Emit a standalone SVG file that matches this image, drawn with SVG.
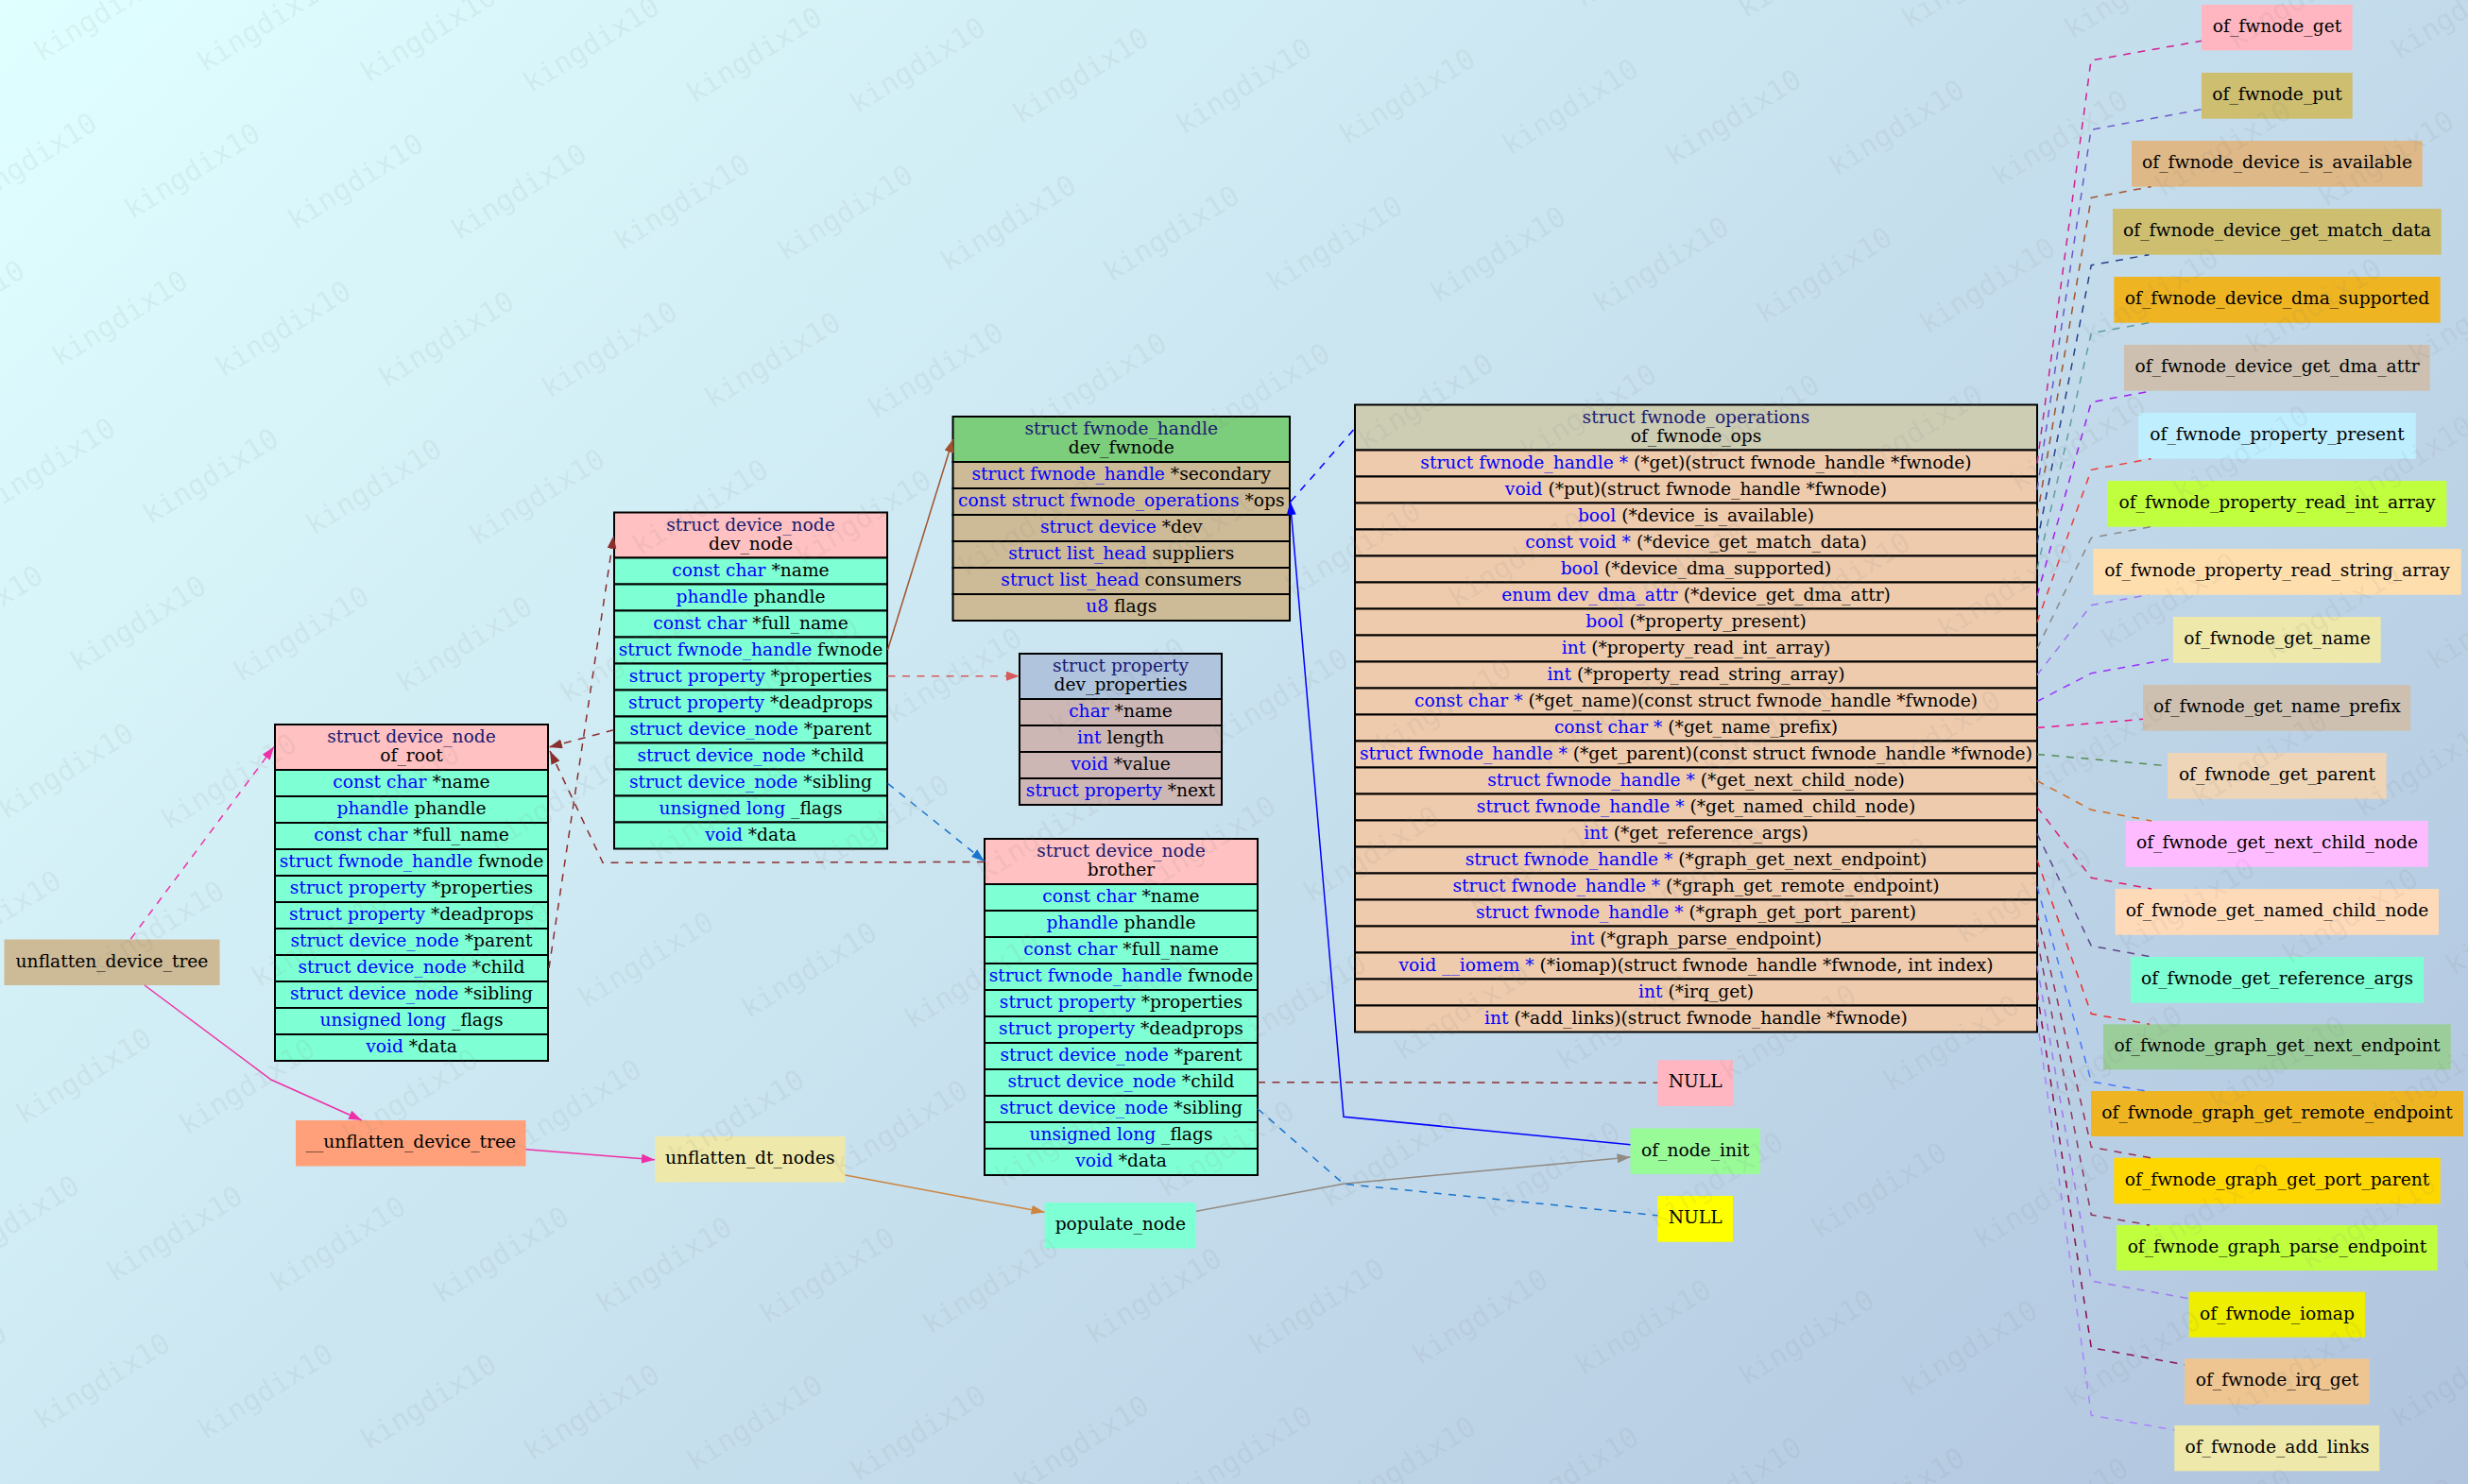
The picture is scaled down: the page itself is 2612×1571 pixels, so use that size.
<svg xmlns="http://www.w3.org/2000/svg" xmlns:xlink="http://www.w3.org/1999/xlink" width="2612" height="1571" viewBox="0 0 2612 1571">
<style>
.t{font-family:"DejaVu Serif","Liberation Serif",serif;font-size:18.67px;text-anchor:middle;fill:#000}
.ty{fill:#0000FF}
.hd{fill:#191970}
.c{stroke:#000;stroke-width:2}
.pl{stroke:none}
.e{fill:none;stroke-width:1.5}
.d{stroke-dasharray:8,7.5}
.wm{font-family:"DejaVu Sans Mono","Liberation Mono",monospace;font-size:30px;fill:#7f7f7f;fill-opacity:0.11}
.hp{fill:#FFC1C1}.rq{fill:#7FFFD4}.hg{fill:#7CCD7C}.rt{fill:#CDBA96}.hb{fill:#B0C4DE}.rm{fill:#CDB7B5}.hy{fill:#CDCDB4}.rp{fill:#EECBAD}
</style>
<defs>
<linearGradient id="bg" gradientUnits="userSpaceOnUse" x1="0" y1="0" x2="2091.5" y2="2091.5">
<stop offset="0" stop-color="#E0FFFF"/><stop offset="1" stop-color="#B0C4DE"/>
</linearGradient>
<marker id="m_mag" viewBox="0 0 14 10" refX="14" refY="5" markerWidth="14" markerHeight="10" markerUnits="userSpaceOnUse" orient="auto"><path d="M0,0L14,5L0,10z" fill="#EE30A7"/></marker>
<marker id="m_peru" viewBox="0 0 14 10" refX="14" refY="5" markerWidth="14" markerHeight="10" markerUnits="userSpaceOnUse" orient="auto"><path d="M0,0L14,5L0,10z" fill="#CD853F"/></marker>
<marker id="m_gray" viewBox="0 0 14 10" refX="14" refY="5" markerWidth="14" markerHeight="10" markerUnits="userSpaceOnUse" orient="auto"><path d="M0,0L14,5L0,10z" fill="#918A82"/></marker>
<marker id="m_blue" viewBox="0 0 14 10" refX="14" refY="5" markerWidth="14" markerHeight="10" markerUnits="userSpaceOnUse" orient="auto"><path d="M0,0L14,5L0,10z" fill="#0000FF"/></marker>
<marker id="m_sienna" viewBox="0 0 14 10" refX="14" refY="5" markerWidth="14" markerHeight="10" markerUnits="userSpaceOnUse" orient="auto"><path d="M0,0L14,5L0,10z" fill="#A0522D"/></marker>
<marker id="m_ired" viewBox="0 0 14 10" refX="14" refY="5" markerWidth="14" markerHeight="10" markerUnits="userSpaceOnUse" orient="auto"><path d="M0,0L14,5L0,10z" fill="#D65A5A"/></marker>
<marker id="m_dodger" viewBox="0 0 14 10" refX="14" refY="5" markerWidth="14" markerHeight="10" markerUnits="userSpaceOnUse" orient="auto"><path d="M0,0L14,5L0,10z" fill="#1874CD"/></marker>
<marker id="m_brown" viewBox="0 0 14 10" refX="14" refY="5" markerWidth="14" markerHeight="10" markerUnits="userSpaceOnUse" orient="auto"><path d="M0,0L14,5L0,10z" fill="#8B2E2E"/></marker>
<text id="wm" class="wm" transform="rotate(-32)">kingdix10</text>
<g id="wmrow">
<use href="#wm" x="0" y="0"/><use href="#wm" x="172.7" y="11"/><use href="#wm" x="345.4" y="22"/><use href="#wm" x="518.1" y="33"/><use href="#wm" x="690.8" y="44"/><use href="#wm" x="863.5" y="55"/><use href="#wm" x="1036.2" y="66"/><use href="#wm" x="1208.9" y="77"/><use href="#wm" x="1381.6" y="88"/><use href="#wm" x="1554.3" y="99"/><use href="#wm" x="1727" y="110"/><use href="#wm" x="1899.7" y="121"/><use href="#wm" x="2072.4" y="132"/><use href="#wm" x="2245.1" y="143"/><use href="#wm" x="2417.8" y="154"/><use href="#wm" x="2590.5" y="165"/><use href="#wm" x="2763.2" y="176"/><use href="#wm" x="2935.9" y="187"/>
</g>
</defs>
<rect x="0" y="0" width="2612" height="1571" fill="url(#bg)"/>

<g id="node_unflatten_device_tree">
<rect class="pl" x="4.5" y="994.5" width="228" height="48.5" fill="#CDBA96"/>
<text class="t" x="118.5" y="1023.5">unflatten_device_tree</text>
</g>
<g id="node___unflatten_device_tree">
<rect class="pl" x="313" y="1186" width="243.5" height="48.5" fill="#FFA07A"/>
<text class="t" x="434.8" y="1215">__unflatten_device_tree</text>
</g>
<g id="node_unflatten_dt_nodes">
<rect class="pl" x="693" y="1203" width="201.5" height="48.5" fill="#EEE8AA"/>
<text class="t" x="793.8" y="1232">unflatten_dt_nodes</text>
</g>
<g id="node_populate_node">
<rect class="pl" x="1105.5" y="1273" width="160.5" height="48.5" fill="#7FFFD4"/>
<text class="t" x="1185.8" y="1302">populate_node</text>
</g>
<g id="node_of_node_init">
<rect class="pl" x="1725.5" y="1194.5" width="137.5" height="48.5" fill="#98FB98"/>
<text class="t" x="1794.2" y="1223.5">of_node_init</text>
</g>
<g id="node_null_child">
<rect class="pl" x="1754.3" y="1122.3" width="79.7" height="48.7" fill="#FFB6C1"/>
<text class="t" x="1794.2" y="1151.3">NULL</text>
</g>
<g id="node_null_sibling">
<rect class="pl" x="1754.3" y="1266" width="79.7" height="48.7" fill="#FFFF00"/>
<text class="t" x="1794.2" y="1295">NULL</text>
</g>

<g id="node_of_root">
<rect class="c hp" x="291" y="767" width="289" height="48"/>
<text class="t" x="435.5" y="786"><tspan class="hd">struct device_node</tspan></text>
<text class="t" x="435.5" y="806">of_root</text>
<rect class="c rq" x="291" y="815" width="289" height="28"/>
<rect class="c rq" x="291" y="843" width="289" height="28"/>
<rect class="c rq" x="291" y="871" width="289" height="28"/>
<rect class="c rq" x="291" y="899" width="289" height="28"/>
<rect class="c rq" x="291" y="927" width="289" height="28"/>
<rect class="c rq" x="291" y="955" width="289" height="28"/>
<rect class="c rq" x="291" y="983" width="289" height="28"/>
<rect class="c rq" x="291" y="1011" width="289" height="28"/>
<rect class="c rq" x="291" y="1039" width="289" height="28"/>
<rect class="c rq" x="291" y="1067" width="289" height="28"/>
<rect class="c rq" x="291" y="1095" width="289" height="28"/>
<text class="t" x="435.5" y="834"><tspan class="ty">const char</tspan> *name</text>
<text class="t" x="435.5" y="862"><tspan class="ty">phandle</tspan> phandle</text>
<text class="t" x="435.5" y="890"><tspan class="ty">const char</tspan> *full_name</text>
<text class="t" x="435.5" y="918"><tspan class="ty">struct fwnode_handle</tspan> fwnode</text>
<text class="t" x="435.5" y="946"><tspan class="ty">struct property</tspan> *properties</text>
<text class="t" x="435.5" y="974"><tspan class="ty">struct property</tspan> *deadprops</text>
<text class="t" x="435.5" y="1002"><tspan class="ty">struct device_node</tspan> *parent</text>
<text class="t" x="435.5" y="1030"><tspan class="ty">struct device_node</tspan> *child</text>
<text class="t" x="435.5" y="1058"><tspan class="ty">struct device_node</tspan> *sibling</text>
<text class="t" x="435.5" y="1086"><tspan class="ty">unsigned long</tspan> _flags</text>
<text class="t" x="435.5" y="1114"><tspan class="ty">void</tspan> *data</text>
</g>

<g id="node_dev_node">
<rect class="c hp" x="650" y="542.5" width="289" height="48"/>
<text class="t" x="794.5" y="561.5"><tspan class="hd">struct device_node</tspan></text>
<text class="t" x="794.5" y="581.5">dev_node</text>
<rect class="c rq" x="650" y="590.5" width="289" height="28"/>
<rect class="c rq" x="650" y="618.5" width="289" height="28"/>
<rect class="c rq" x="650" y="646.5" width="289" height="28"/>
<rect class="c rq" x="650" y="674.5" width="289" height="28"/>
<rect class="c rq" x="650" y="702.5" width="289" height="28"/>
<rect class="c rq" x="650" y="730.5" width="289" height="28"/>
<rect class="c rq" x="650" y="758.5" width="289" height="28"/>
<rect class="c rq" x="650" y="786.5" width="289" height="28"/>
<rect class="c rq" x="650" y="814.5" width="289" height="28"/>
<rect class="c rq" x="650" y="842.5" width="289" height="28"/>
<rect class="c rq" x="650" y="870.5" width="289" height="28"/>
<text class="t" x="794.5" y="609.5"><tspan class="ty">const char</tspan> *name</text>
<text class="t" x="794.5" y="637.5"><tspan class="ty">phandle</tspan> phandle</text>
<text class="t" x="794.5" y="665.5"><tspan class="ty">const char</tspan> *full_name</text>
<text class="t" x="794.5" y="693.5"><tspan class="ty">struct fwnode_handle</tspan> fwnode</text>
<text class="t" x="794.5" y="721.5"><tspan class="ty">struct property</tspan> *properties</text>
<text class="t" x="794.5" y="749.5"><tspan class="ty">struct property</tspan> *deadprops</text>
<text class="t" x="794.5" y="777.5"><tspan class="ty">struct device_node</tspan> *parent</text>
<text class="t" x="794.5" y="805.5"><tspan class="ty">struct device_node</tspan> *child</text>
<text class="t" x="794.5" y="833.5"><tspan class="ty">struct device_node</tspan> *sibling</text>
<text class="t" x="794.5" y="861.5"><tspan class="ty">unsigned long</tspan> _flags</text>
<text class="t" x="794.5" y="889.5"><tspan class="ty">void</tspan> *data</text>
</g>

<g id="node_brother">
<rect class="c hp" x="1042" y="888" width="289" height="48"/>
<text class="t" x="1186.5" y="907"><tspan class="hd">struct device_node</tspan></text>
<text class="t" x="1186.5" y="927">brother</text>
<rect class="c rq" x="1042" y="936" width="289" height="28"/>
<rect class="c rq" x="1042" y="964" width="289" height="28"/>
<rect class="c rq" x="1042" y="992" width="289" height="28"/>
<rect class="c rq" x="1042" y="1020" width="289" height="28"/>
<rect class="c rq" x="1042" y="1048" width="289" height="28"/>
<rect class="c rq" x="1042" y="1076" width="289" height="28"/>
<rect class="c rq" x="1042" y="1104" width="289" height="28"/>
<rect class="c rq" x="1042" y="1132" width="289" height="28"/>
<rect class="c rq" x="1042" y="1160" width="289" height="28"/>
<rect class="c rq" x="1042" y="1188" width="289" height="28"/>
<rect class="c rq" x="1042" y="1216" width="289" height="28"/>
<text class="t" x="1186.5" y="955"><tspan class="ty">const char</tspan> *name</text>
<text class="t" x="1186.5" y="983"><tspan class="ty">phandle</tspan> phandle</text>
<text class="t" x="1186.5" y="1011"><tspan class="ty">const char</tspan> *full_name</text>
<text class="t" x="1186.5" y="1039"><tspan class="ty">struct fwnode_handle</tspan> fwnode</text>
<text class="t" x="1186.5" y="1067"><tspan class="ty">struct property</tspan> *properties</text>
<text class="t" x="1186.5" y="1095"><tspan class="ty">struct property</tspan> *deadprops</text>
<text class="t" x="1186.5" y="1123"><tspan class="ty">struct device_node</tspan> *parent</text>
<text class="t" x="1186.5" y="1151"><tspan class="ty">struct device_node</tspan> *child</text>
<text class="t" x="1186.5" y="1179"><tspan class="ty">struct device_node</tspan> *sibling</text>
<text class="t" x="1186.5" y="1207"><tspan class="ty">unsigned long</tspan> _flags</text>
<text class="t" x="1186.5" y="1235"><tspan class="ty">void</tspan> *data</text>
</g>

<g id="node_dev_fwnode">
<rect class="c hg" x="1008.5" y="441" width="356.5" height="48"/>
<text class="t" x="1186.75" y="460"><tspan class="hd">struct fwnode_handle</tspan></text>
<text class="t" x="1186.75" y="480">dev_fwnode</text>
<rect class="c rt" x="1008.5" y="489" width="356.5" height="28"/>
<rect class="c rt" x="1008.5" y="517" width="356.5" height="28"/>
<rect class="c rt" x="1008.5" y="545" width="356.5" height="28"/>
<rect class="c rt" x="1008.5" y="573" width="356.5" height="28"/>
<rect class="c rt" x="1008.5" y="601" width="356.5" height="28"/>
<rect class="c rt" x="1008.5" y="629" width="356.5" height="28"/>
<text class="t" x="1186.75" y="508"><tspan class="ty">struct fwnode_handle</tspan> *secondary</text>
<text class="t" x="1186.75" y="536"><tspan class="ty">const struct fwnode_operations</tspan> *ops</text>
<text class="t" x="1186.75" y="564"><tspan class="ty">struct device</tspan> *dev</text>
<text class="t" x="1186.75" y="592"><tspan class="ty">struct list_head</tspan> suppliers</text>
<text class="t" x="1186.75" y="620"><tspan class="ty">struct list_head</tspan> consumers</text>
<text class="t" x="1186.75" y="648"><tspan class="ty">u8</tspan> flags</text>
</g>

<g id="node_dev_properties">
<rect class="c hb" x="1079" y="692" width="214" height="48"/>
<text class="t" x="1186" y="711"><tspan class="hd">struct property</tspan></text>
<text class="t" x="1186" y="731">dev_properties</text>
<rect class="c rm" x="1079" y="740" width="214" height="28"/>
<rect class="c rm" x="1079" y="768" width="214" height="28"/>
<rect class="c rm" x="1079" y="796" width="214" height="28"/>
<rect class="c rm" x="1079" y="824" width="214" height="28"/>
<text class="t" x="1186" y="759"><tspan class="ty">char</tspan> *name</text>
<text class="t" x="1186" y="787"><tspan class="ty">int</tspan> length</text>
<text class="t" x="1186" y="815"><tspan class="ty">void</tspan> *value</text>
<text class="t" x="1186" y="843"><tspan class="ty">struct property</tspan> *next</text>
</g>

<g id="node_of_fwnode_ops">
<rect class="c hy" x="1434" y="428.5" width="722" height="48"/>
<text class="t" x="1795" y="447.5"><tspan class="hd">struct fwnode_operations</tspan></text>
<text class="t" x="1795" y="467.5">of_fwnode_ops</text>
<rect class="c rp" x="1434" y="476.5" width="722" height="28"/>
<rect class="c rp" x="1434" y="504.5" width="722" height="28"/>
<rect class="c rp" x="1434" y="532.5" width="722" height="28"/>
<rect class="c rp" x="1434" y="560.5" width="722" height="28"/>
<rect class="c rp" x="1434" y="588.5" width="722" height="28"/>
<rect class="c rp" x="1434" y="616.5" width="722" height="28"/>
<rect class="c rp" x="1434" y="644.5" width="722" height="28"/>
<rect class="c rp" x="1434" y="672.5" width="722" height="28"/>
<rect class="c rp" x="1434" y="700.5" width="722" height="28"/>
<rect class="c rp" x="1434" y="728.5" width="722" height="28"/>
<rect class="c rp" x="1434" y="756.5" width="722" height="28"/>
<rect class="c rp" x="1434" y="784.5" width="722" height="28"/>
<rect class="c rp" x="1434" y="812.5" width="722" height="28"/>
<rect class="c rp" x="1434" y="840.5" width="722" height="28"/>
<rect class="c rp" x="1434" y="868.5" width="722" height="28"/>
<rect class="c rp" x="1434" y="896.5" width="722" height="28"/>
<rect class="c rp" x="1434" y="924.5" width="722" height="28"/>
<rect class="c rp" x="1434" y="952.5" width="722" height="28"/>
<rect class="c rp" x="1434" y="980.5" width="722" height="28"/>
<rect class="c rp" x="1434" y="1008.5" width="722" height="28"/>
<rect class="c rp" x="1434" y="1036.5" width="722" height="28"/>
<rect class="c rp" x="1434" y="1064.5" width="722" height="28"/>
<text class="t" x="1795" y="495.5"><tspan class="ty">struct fwnode_handle *</tspan> (*get)(struct fwnode_handle *fwnode)</text>
<text class="t" x="1795" y="523.5"><tspan class="ty">void</tspan> (*put)(struct fwnode_handle *fwnode)</text>
<text class="t" x="1795" y="551.5"><tspan class="ty">bool</tspan> (*device_is_available)</text>
<text class="t" x="1795" y="579.5"><tspan class="ty">const void *</tspan> (*device_get_match_data)</text>
<text class="t" x="1795" y="607.5"><tspan class="ty">bool</tspan> (*device_dma_supported)</text>
<text class="t" x="1795" y="635.5"><tspan class="ty">enum dev_dma_attr</tspan> (*device_get_dma_attr)</text>
<text class="t" x="1795" y="663.5"><tspan class="ty">bool</tspan> (*property_present)</text>
<text class="t" x="1795" y="691.5"><tspan class="ty">int</tspan> (*property_read_int_array)</text>
<text class="t" x="1795" y="719.5"><tspan class="ty">int</tspan> (*property_read_string_array)</text>
<text class="t" x="1795" y="747.5"><tspan class="ty">const char *</tspan> (*get_name)(const struct fwnode_handle *fwnode)</text>
<text class="t" x="1795" y="775.5"><tspan class="ty">const char *</tspan> (*get_name_prefix)</text>
<text class="t" x="1795" y="803.5"><tspan class="ty">struct fwnode_handle *</tspan> (*get_parent)(const struct fwnode_handle *fwnode)</text>
<text class="t" x="1795" y="831.5"><tspan class="ty">struct fwnode_handle *</tspan> (*get_next_child_node)</text>
<text class="t" x="1795" y="859.5"><tspan class="ty">struct fwnode_handle *</tspan> (*get_named_child_node)</text>
<text class="t" x="1795" y="887.5"><tspan class="ty">int</tspan> (*get_reference_args)</text>
<text class="t" x="1795" y="915.5"><tspan class="ty">struct fwnode_handle *</tspan> (*graph_get_next_endpoint)</text>
<text class="t" x="1795" y="943.5"><tspan class="ty">struct fwnode_handle *</tspan> (*graph_get_remote_endpoint)</text>
<text class="t" x="1795" y="971.5"><tspan class="ty">struct fwnode_handle *</tspan> (*graph_get_port_parent)</text>
<text class="t" x="1795" y="999.5"><tspan class="ty">int</tspan> (*graph_parse_endpoint)</text>
<text class="t" x="1795" y="1027.5"><tspan class="ty">void __iomem *</tspan> (*iomap)(struct fwnode_handle *fwnode, int index)</text>
<text class="t" x="1795" y="1055.5"><tspan class="ty">int</tspan> (*irq_get)</text>
<text class="t" x="1795" y="1083.5"><tspan class="ty">int</tspan> (*add_links)(struct fwnode_handle *fwnode)</text>
</g>

<g id="node_of_fwnode_get"><rect class="pl" x="2330" y="5" width="159.7" height="48.3" fill="#FFB6C1"/><text class="t" x="2410" y="34">of_fwnode_get</text></g>
<g id="node_of_fwnode_put"><rect class="pl" x="2330" y="77" width="159.7" height="48.7" fill="#CDBE70"/><text class="t" x="2410" y="106">of_fwnode_put</text></g>
<g id="node_of_fwnode_device_is_available"><rect class="pl" x="2256" y="149" width="307.7" height="48.7" fill="#DEB887"/><text class="t" x="2410" y="178">of_fwnode_device_is_available</text></g>
<g id="node_of_fwnode_device_get_match_data"><rect class="pl" x="2236" y="221" width="347.7" height="48.7" fill="#CDBE70"/><text class="t" x="2410" y="250">of_fwnode_device_get_match_data</text></g>
<g id="node_of_fwnode_device_dma_supported"><rect class="pl" x="2237.3" y="293" width="345.4" height="48.7" fill="#EEB422"/><text class="t" x="2410" y="322">of_fwnode_device_dma_supported</text></g>
<g id="node_of_fwnode_device_get_dma_attr"><rect class="pl" x="2248" y="365" width="323.7" height="48.7" fill="#CDC0B0"/><text class="t" x="2410" y="394">of_fwnode_device_get_dma_attr</text></g>
<g id="node_of_fwnode_property_present"><rect class="pl" x="2263.3" y="437" width="293.4" height="48.7" fill="#BFEFFF"/><text class="t" x="2410" y="466">of_fwnode_property_present</text></g>
<g id="node_of_fwnode_property_read_int_array"><rect class="pl" x="2230.7" y="509" width="358.6" height="48.7" fill="#C0FF3E"/><text class="t" x="2410" y="538">of_fwnode_property_read_int_array</text></g>
<g id="node_of_fwnode_property_read_string_array"><rect class="pl" x="2215.3" y="581" width="389.4" height="48.7" fill="#FFDEAD"/><text class="t" x="2410" y="610">of_fwnode_property_read_string_array</text></g>
<g id="node_of_fwnode_get_name"><rect class="pl" x="2300" y="653" width="219.7" height="48.7" fill="#EEE8AA"/><text class="t" x="2410" y="682">of_fwnode_get_name</text></g>
<g id="node_of_fwnode_get_name_prefix"><rect class="pl" x="2268" y="725" width="283.3" height="48.7" fill="#CDC0B0"/><text class="t" x="2410" y="754">of_fwnode_get_name_prefix</text></g>
<g id="node_of_fwnode_get_parent"><rect class="pl" x="2294" y="797" width="231.7" height="48.7" fill="#EED5B7"/><text class="t" x="2410" y="826">of_fwnode_get_parent</text></g>
<g id="node_of_fwnode_get_next_child_node"><rect class="pl" x="2250" y="869" width="319.7" height="48.7" fill="#FFBBFF"/><text class="t" x="2410" y="898">of_fwnode_get_next_child_node</text></g>
<g id="node_of_fwnode_get_named_child_node"><rect class="pl" x="2238.7" y="941" width="342.3" height="48.7" fill="#FFDAB9"/><text class="t" x="2410" y="970">of_fwnode_get_named_child_node</text></g>
<g id="node_of_fwnode_get_reference_args"><rect class="pl" x="2255" y="1013" width="310" height="48.7" fill="#7FFFD4"/><text class="t" x="2410" y="1042">of_fwnode_get_reference_args</text></g>
<g id="node_of_fwnode_graph_get_next_endpoint"><rect class="pl" x="2226" y="1084.3" width="367.7" height="48" fill="#9BCD9B"/><text class="t" x="2410" y="1113">of_fwnode_graph_get_next_endpoint</text></g>
<g id="node_of_fwnode_graph_get_remote_endpoint"><rect class="pl" x="2213" y="1155" width="394" height="48" fill="#EEB422"/><text class="t" x="2410" y="1184">of_fwnode_graph_get_remote_endpoint</text></g>
<g id="node_of_fwnode_graph_get_port_parent"><rect class="pl" x="2237.3" y="1225.7" width="345.4" height="48.6" fill="#FFD700"/><text class="t" x="2410" y="1254.7">of_fwnode_graph_get_port_parent</text></g>
<g id="node_of_fwnode_graph_parse_endpoint"><rect class="pl" x="2240" y="1297" width="339.7" height="48" fill="#C0FF3E"/><text class="t" x="2410" y="1326">of_fwnode_graph_parse_endpoint</text></g>
<g id="node_of_fwnode_iomap"><rect class="pl" x="2316.7" y="1367.7" width="186.3" height="48" fill="#EEEE00"/><text class="t" x="2410" y="1396.5">of_fwnode_iomap</text></g>
<g id="node_of_fwnode_irq_get"><rect class="pl" x="2312" y="1438.3" width="195.7" height="48.4" fill="#EEC591"/><text class="t" x="2410" y="1467.3">of_fwnode_irq_get</text></g>
<g id="node_of_fwnode_add_links"><rect class="pl" x="2301.3" y="1509" width="217" height="48.3" fill="#EEE8AA"/><text class="t" x="2410" y="1538">of_fwnode_add_links</text></g>

<g id="connectors">
<path class="e d" stroke="#EE30A7" marker-end="url(#m_mag)" d="M138.4,994 L290,790.6"/>
<path class="e" stroke="#EE30A7" marker-end="url(#m_mag)" d="M153,1043 L287,1143 L383,1186"/>
<path class="e" stroke="#EE30A7" marker-end="url(#m_mag)" d="M556.4,1216.7 L693,1227.7"/>
<path class="e" stroke="#CD853F" marker-end="url(#m_peru)" d="M894.5,1244 L1105.5,1283.3"/>
<path class="e" stroke="#918A82" marker-end="url(#m_gray)" d="M1266,1282.3 L1422,1253.3 L1725.5,1225"/>
<path class="e" stroke="#0000FF" marker-end="url(#m_blue)" d="M1725.5,1211.7 L1422,1182.3 L1365.5,531"/>
<path class="e d" stroke="#0000FF" d="M1366,531 L1434,453.3"/>
<path class="e" stroke="#A0522D" marker-end="url(#m_sienna)" d="M939.5,688 L1008.5,465"/>
<path class="e d" stroke="#D65A5A" marker-end="url(#m_ired)" d="M939.5,715.7 L1079,715.7"/>
<path class="e d" stroke="#1874CD" marker-end="url(#m_dodger)" d="M939.5,829.3 L1042,911.9"/>
<path class="e d" stroke="#8B2E2E" marker-end="url(#m_brown)" d="M581,1025 L649.5,567"/>
<path class="e d" stroke="#8B2E2E" marker-end="url(#m_brown)" d="M649.5,772.7 L581,791"/>
<path class="e d" stroke="#8B2E2E" marker-end="url(#m_brown)" d="M1042,912.5 L638,913.3 L582,795"/>
<path class="e d" stroke="#8B2E2E" d="M1331,1145.7 L1754.3,1146.3"/>
<path class="e d" stroke="#1874CD" d="M1331,1173.7 L1422,1253.3 L1754.3,1286.7"/>
<path class="e d" stroke="#D02090" d="M2156,490.5 L2213,64 L2330,43.3"/>
<path class="e d" stroke="#6959CD" d="M2156,518.5 L2213,137.3 L2330,115.8"/>
<path class="e d" stroke="#A0522D" d="M2156,546.5 L2213.3,209.3 L2276.6,197.7"/>
<path class="e d" stroke="#27408B" d="M2156,574.5 L2213.3,280.7 L2274.3,269.7"/>
<path class="e d" stroke="#5F9EA0" d="M2156,602.5 L2213.3,352.7 L2274.4,341.7"/>
<path class="e d" stroke="#A020F0" d="M2156,630.5 L2213.3,425.7 L2278,413.7"/>
<path class="e d" stroke="#EE3B3B" d="M2156,658.5 L2213.3,497.3 L2276.6,485.7"/>
<path class="e d" stroke="#888888" d="M2156,686.5 L2213.3,569.3 L2276.6,557.7"/>
<path class="e d" stroke="#9F79EE" d="M2156,714.5 L2213.3,640.7 L2274.3,629.7"/>
<path class="e d" stroke="#9B30FF" d="M2156,742.5 L2213.3,712.7 L2300,697.1"/>
<path class="e d" stroke="#EE1289" d="M2156,770.5 L2268,761.3"/>
<path class="e d" stroke="#548B54" d="M2156,798.5 L2294,810.7"/>
<path class="e d" stroke="#D2691E" d="M2156,826.5 L2213.3,857.3 L2277.2,869"/>
<path class="e d" stroke="#E01A6A" d="M2156,854.5 L2213.3,929.3 L2277.2,941"/>
<path class="e d" stroke="#5D478B" d="M2156,882.5 L2213.3,1001.3 L2277.2,1013"/>
<path class="e d" stroke="#EE2C2C" d="M2156,910.5 L2213.3,1073.3 L2275,1084.3"/>
<path class="e d" stroke="#4876FF" d="M2156,938.5 L2213.3,1145 L2271.2,1155"/>
<path class="e d" stroke="#9B2D50" d="M2156,966.5 L2213.3,1214.3 L2276,1225.7"/>
<path class="e d" stroke="#8B3A62" d="M2156,994.5 L2213.3,1286 L2275,1297"/>
<path class="e d" stroke="#9F79EE" d="M2156,1022.5 L2213.3,1356 L2316.7,1374.8"/>
<path class="e d" stroke="#8B0A50" d="M2156,1050.5 L2213.3,1426.7 L2312,1444.7"/>
<path class="e d" stroke="#AB82FF" d="M2156,1078.5 L2213.3,1498.3 L2301.3,1513.9"/>
</g>

<g id="watermark">
<use href="#wmrow" x="-224.7" y="-112.3"/>
<use href="#wmrow" x="-301.4" y="43.7"/>
<use href="#wmrow" x="-205.4" y="210.7"/>
<use href="#wmrow" x="-282.1" y="366.7"/>
<use href="#wmrow" x="-358.8" y="522.7"/>
<use href="#wmrow" x="-262.8" y="689.7"/>
<use href="#wmrow" x="-339.5" y="845.7"/>
<use href="#wmrow" x="-243.5" y="1012.7"/>
<use href="#wmrow" x="-320.2" y="1168.7"/>
<use href="#wmrow" x="-224.2" y="1335.7"/>
<use href="#wmrow" x="-300.9" y="1491.7"/>
</g>
</svg>
